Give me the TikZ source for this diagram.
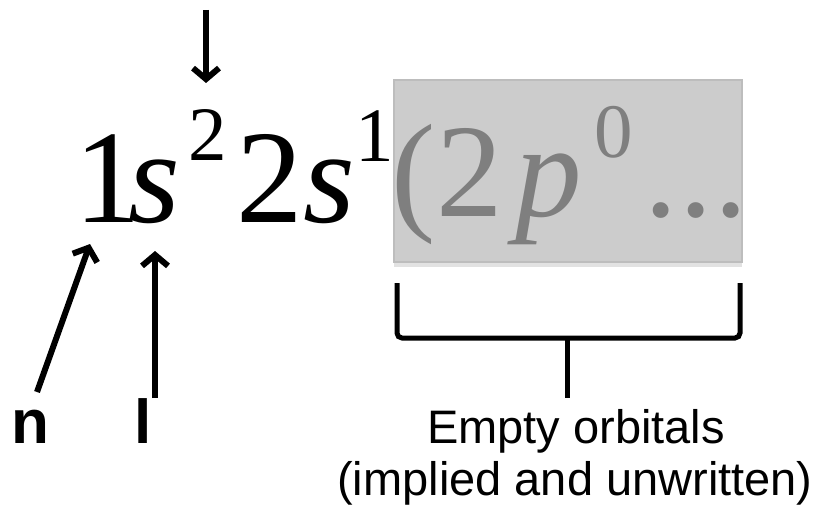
\documentclass[tikz,border=0pt]{standalone}
\usepackage{fontspec}
\setmainfont{Liberation Serif}
\newfontfamily\sansf{Liberation Sans}
\usetikzlibrary{arrows.meta}
\definecolor{boxfill}{HTML}{CCCCCC}
\definecolor{boxedge}{HTML}{BDBDBD}
\definecolor{boxshade}{HTML}{E2E2E2}
\definecolor{graytext}{HTML}{7F7F7F}
\tikzset{
  big/.style={anchor=base west, inner sep=0pt, font=\fontsize{133}{133}\selectfont},
  sup/.style={anchor=base west, inner sep=0pt, font=\fontsize{77}{77}\selectfont},
  lbl/.style={anchor=base west, inner sep=0pt, font=\sansf\bfseries\fontsize{62}{62}\selectfont},
  note/.style={anchor=base, inner sep=0pt, font=\sansf\fontsize{47}{47}\selectfont},
  arrowline/.style={line width=6pt, -{Straight Barb[length=11pt,width=26pt]}},
  bracket/.style={line width=5pt, rounded corners=5pt}
}
\begin{document}
\begin{tikzpicture}[x=1pt,y=-1pt]
\useasboundingbox (0,0) rectangle (818,508);
% gray box
\fill[boxshade] (394,261) rectangle (742,267);
\draw[boxedge, fill=boxfill, line width=1.5pt] (394,80) rectangle (742,262);
% formula
\node[big] (one) at (74,222) {1};
\node[big] (s1) at (128,222) {\itshape s};
\node[sup] (e1) at (188,160) {2};
\node[big] (two) at (236,222) {2};
\node[big] (s2) at (303,222) {\itshape s};
\node[sup] (e2) at (355,161) {1};
\node[big, text=graytext] (paren) at (391,216) {(};
\node[big, text=graytext] (two2) at (436,216) {2};
\node[big, text=graytext] (p) at (515,216) {\itshape p};
\node[sup, text=graytext] (e3) at (594,157) {0};
\node[big, text=graytext] (dots) at (644,216) {.\kern2pt.\kern2pt.};
% arrows
\coordinate (dtop) at (206,10);
\coordinate (dtip) at (206,83);
\draw[arrowline] (dtop) -- (dtip);
\node[lbl] (n) at (11,443) {n};
\node[lbl] (l) at (134,443) {l};
\coordinate (nstart) at (37,392);
\coordinate (ntip) at (90,244);
\coordinate (lstart) at (155,398);
\coordinate (ltip) at (155,251);
\draw[arrowline] (nstart) -- (ntip);
\draw[arrowline] (lstart) -- (ltip);
% bracket
\coordinate (bl) at (397,283);
\coordinate (br) at (740,283);
\coordinate (bm) at (567,338);
\coordinate (bs) at (567,398);
\draw[bracket] (bl) |- (bm) -| (br);
\draw[line width=5pt] (bm) -- (bs);
\node[note] (t1) at (576,443) {Empty orbitals};
\node[note] (t2) at (575,495) {(implied and unwritten)};
\end{tikzpicture}
\end{document}
